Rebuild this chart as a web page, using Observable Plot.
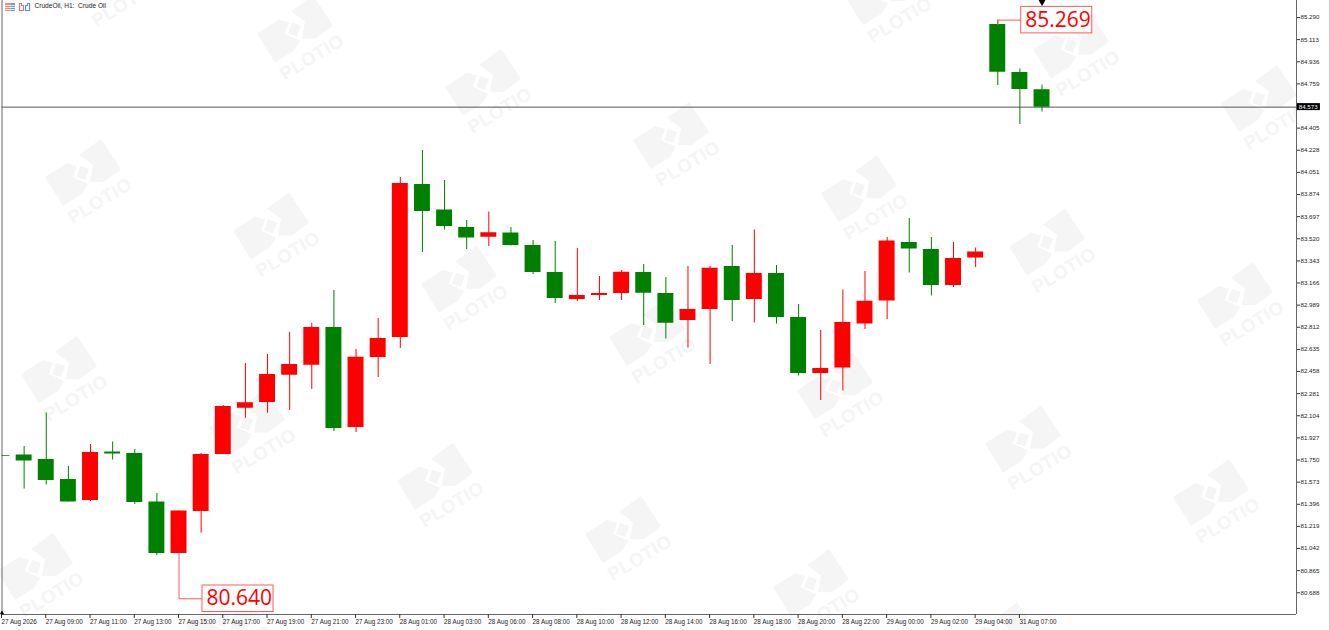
<!DOCTYPE html>
<html><head><meta charset="utf-8">
<style>html,body{margin:0;padding:0;background:#fff;overflow:hidden}svg.plot,figure{margin:0;display:block}
#edge{position:absolute;left:1329px;top:0;width:1px;height:630px;background:#c8ccd0}</style>
<script src="https://cdn.jsdelivr.net/npm/d3@7"></script>
<script src="https://cdn.jsdelivr.net/npm/@observablehq/plot@0.6"></script>
</head><body><div id="chart"></div><div id="edge"></div>
<script>
const highs=[81.786,81.858,82.126,81.698,81.874,81.894,81.834,81.482,81.342,81.802,82.186,82.522,82.594,82.772,82.844,83.106,82.634,82.882,84.01,84.226,83.986,83.666,83.734,83.61,83.506,83.498,83.442,83.218,83.266,83.314,83.21,83.298,83.298,83.466,83.59,83.306,82.994,82.786,83.11,83.258,83.53,83.682,83.53,83.49,83.446,85.269,84.878,84.75];
const bodyTops=[81.786,81.79,81.754,81.594,81.81,81.814,81.802,81.414,81.342,81.794,82.178,82.208,82.434,82.514,82.81,82.81,82.572,82.722,83.962,83.954,83.75,83.61,83.568,83.566,83.466,83.25,83.066,83.082,83.252,83.25,83.082,82.954,83.284,83.298,83.242,83.242,82.89,82.482,82.85,83.02,83.502,83.49,83.434,83.362,83.414,85.234,84.85,84.712];
const bodyBottoms=[81.78,81.742,81.586,81.414,81.426,81.798,81.41,81.002,81.002,81.338,81.794,82.164,82.21,82.428,82.508,82.002,82.01,82.57,82.73,83.738,83.618,83.526,83.532,83.466,83.25,83.042,83.034,83.066,83.082,83.084,82.844,82.866,82.954,83.026,83.034,82.89,82.442,82.442,82.486,82.838,83.022,83.438,83.146,83.146,83.366,84.852,84.714,84.572];
const lows=[81.78,81.518,81.55,81.414,81.418,81.75,81.394,80.986,81.002,81.166,81.794,82.084,82.124,82.146,82.314,81.978,81.97,82.41,82.642,83.41,83.59,83.434,83.458,83.462,83.234,83.002,83.018,83.026,83.026,82.826,82.718,82.646,82.514,82.858,82.846,82.838,82.422,82.226,82.302,82.794,82.874,83.246,83.062,83.13,83.29,84.746,84.434,84.534];
const candleKinds=["down","down","down","down","up","down","down","down","up","up","up","up","up","up","up","down","up","up","up","down","down","down","up","down","down","down","up","up","up","down","down","up","up","down","up","down","down","up","up","up","up","down","down","up","up","down","down","down"];
const priceTicks=[85.290,85.113,84.936,84.759,84.405,84.228,84.051,83.874,83.697,83.520,83.343,83.166,82.989,82.812,82.635,82.458,82.281,82.104,81.927,81.750,81.573,81.396,81.219,81.042,80.865,80.688];
const timeLabels=["27 Aug 2026","27 Aug 09:00","27 Aug 11:00","27 Aug 13:00","27 Aug 15:00","27 Aug 17:00","27 Aug 19:00","27 Aug 21:00","27 Aug 23:00","28 Aug 01:00","28 Aug 03:00","28 Aug 06:00","28 Aug 08:00","28 Aug 10:00","28 Aug 12:00","28 Aug 14:00","28 Aug 16:00","28 Aug 18:00","28 Aug 20:00","28 Aug 22:00","29 Aug 00:00","29 Aug 02:00","29 Aug 04:00","31 Aug 07:00"];
const lastPrice=84.573;
const title="CrudeOil, H1:  Crude Oil";
const calloutCandles=[8,45];
const calloutPrices=[80.640,85.269];
const calloutFrom=[81.002,85.234];

const candles=highs.map((h,i)=>({i,h,t:bodyTops[i],b:bodyBottoms[i],l:lows[i],k:candleKinds[i]}));
const callouts=calloutCandles.map((c,k)=>({c,p:calloutPrices[k],f:calloutFrom[k]}));
const tickIndex=timeLabels.map((_,k)=>k*2);
const font="'Liberation Sans',Arial,sans-serif";
const yTop=85.426,yBottom=80.514,xEnd=58.5;

function backdrop(index,scales,values,dims){
  const svg=d3.create("svg:g");
  const clipId="wmclip";
  svg.append("clipPath").attr("id",clipId).append("rect").attr("x",0).attr("y",0).attr("width",1296).attr("height",630);
  const g=svg.append("g").attr("clip-path",`url(#${clipId})`);
  const shapes=["-37,5 -15,-9 -5,-6 -9,5 6,12 0,22 -19,34","-3,-17 19,-33 39,-3 22,10 8,10 11,-7"];
  for(let r=-2;r<=3;r++)for(let c=-5;c<=5;c++){
    const x=670+c*188+r*-24, y=135+c*53.3+r*197;
    if(x<-60||x>1340||y<-50||y>680)continue;
    const w=g.append("g").attr("transform",`translate(${x},${y})`);
    shapes.forEach(s=>w.append("polygon").attr("points",s).attr("fill","#f5f5f5"));
    w.append("polygon").attr("points","-2,-6 7,-3 3,8 -6,5").attr("fill","#f5f5f5");
    w.append("text").text("PLOTIO").attr("transform","translate(21,34) rotate(-31)").attr("text-anchor","middle")
      .attr("font-family",font).attr("font-weight","bold").attr("font-size",18.5).attr("letter-spacing",0.4).attr("fill","#f5f5f5");
  }
  // toolbar icons of the header
  const ic=svg.append("g");
  ic.append("rect").attr("x",5).attr("y",3).attr("width",10).attr("height",8).attr("fill","#f08a80");
  ic.append("rect").attr("x",11).attr("y",3).attr("width",4).attr("height",8).attr("fill","#5a9fd8");
  [5,7,9].forEach(y=>ic.append("rect").attr("x",5).attr("y",y).attr("width",10).attr("height",0.8).attr("fill","#fff"));
  ic.append("path").attr("d","M19.5 3.5h2v2h2v5h-4zM25.5 10.5v-5h2v-2h2v7z").attr("fill","#fff").attr("stroke","#e8706a").attr("stroke-width",1.1);
  ic.append("path").attr("d","M25.5 10.5v-5h2v-2h2v7z").attr("fill","#fff").attr("stroke","#4f97d4").attr("stroke-width",1.1);
  return svg.node();
}

const chart=Plot.plot({
  width:1330,height:630,marginTop:0,marginLeft:1.5,marginRight:34,marginBottom:16,
  style:{background:"transparent",fontFamily:font},
  x:{type:"linear",domain:[0,xEnd],range:[1.5,1296]},
  y:{type:"linear",domain:[yBottom,yTop],range:[614,0]},
  color:{domain:["down","up"],range:["#008000","#ff0000"]},
  marks:[
    backdrop,
    Plot.ruleY([lastPrice],{stroke:"#555",strokeWidth:1}),
    Plot.ruleX(candles,{x:"i",y1:"l",y2:"h",stroke:"k",strokeWidth:1,clip:true}),
    Plot.rect(candles,{x1:d=>d.i-0.36,x2:d=>d.i+0.36,y1:"b",y2:"t",fill:"k",clip:true,inset:0}),
    Plot.ruleX([0],{stroke:"#666",strokeWidth:1}),
    Plot.ruleX([xEnd],{stroke:"#666",strokeWidth:1}),
    Plot.ruleY([yBottom],{stroke:"#666",strokeWidth:1}),
    // callouts
    Plot.line(callouts.flatMap((d,k)=>[{x:d.c,y:d.f,k},{x:d.c,y:d.p,k},{x:d.c+1.06,y:d.p,k}]),{x:"x",y:"y",z:"k",stroke:"#ff5a5a",strokeWidth:1,curve:"linear"}),
    Plot.rect(callouts,{x1:d=>d.c+1.06,x2:d=>d.c+4.27,y1:d=>d.p-0.106,y2:d=>d.p+0.106,fill:"#fff",stroke:"#ff5a5a",strokeWidth:1}),
    Plot.text(callouts,{x:d=>d.c+2.72,y:"p",text:d=>d3.format(".3f")(d.p),fill:"#ff0000",fontSize:21,fontFamily:"'Open Sans',sans-serif"}),
    // markers
    Plot.dot([{i:47}],{x:"i",y:()=>yTop,symbol:"diamond",r:3.4,fill:"#000"}),
    Plot.dot([{i:0}],{x:"i",y:()=>yBottom+0.012,symbol:"triangle",r:1.6,fill:"#000"}),
    // axes
    Plot.axisY({anchor:"right",ticks:priceTicks,tickFormat:d3.format(".3f"),tickSize:3,tickPadding:1,fontSize:6.2,label:null,stroke:"#333",fill:"#222"}),
    Plot.axisX({anchor:"bottom",ticks:tickIndex,tickFormat:i=>timeLabels[i/2],tickSize:4,tickPadding:1,fontSize:6.3,textAnchor:"start",dx:-0.5,label:null,stroke:"#333",fill:"#222"}),
    // last price label
    Plot.rect([lastPrice],{x1:()=>xEnd+0.04,x2:()=>xEnd+1.08,y1:d=>d-0.028,y2:d=>d+0.028,fill:"#000"}),
    Plot.text([lastPrice],{x:()=>xEnd+0.1,y:d=>d,text:d=>d3.format(".3f")(d),textAnchor:"start",fill:"#fff",fontSize:6.2}),
    // header
    Plot.text([title],{frameAnchor:"top-left",dx:32.5,dy:3,text:d=>d,textAnchor:"start",fontSize:6.6,fill:"#222"})
  ]
});
document.getElementById("chart").appendChild(chart);
</script></body></html>
